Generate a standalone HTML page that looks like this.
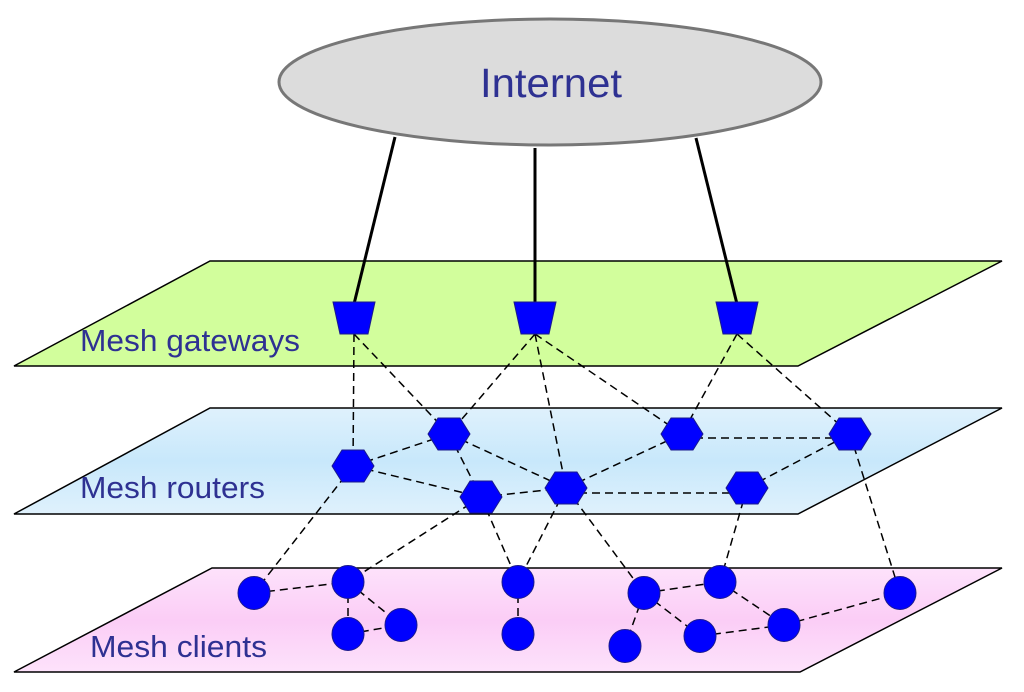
<!DOCTYPE html>
<html><head><meta charset="utf-8"><style>html,body{margin:0;padding:0;background:#fff}</style></head>
<body>
<svg width="1024" height="687" viewBox="0 0 1024 687" xmlns="http://www.w3.org/2000/svg" font-family="Liberation Sans, sans-serif">
<defs>
<linearGradient id="gb" x1="0" y1="0" x2="0" y2="1"><stop offset="0" stop-color="#dff1fc"/><stop offset="0.5" stop-color="#c8e8fb"/><stop offset="1" stop-color="#dff1fc"/></linearGradient>
<linearGradient id="gp" x1="0" y1="0" x2="0" y2="1"><stop offset="0" stop-color="#fde2fb"/><stop offset="0.5" stop-color="#fbcdf6"/><stop offset="1" stop-color="#fde2fb"/></linearGradient>
</defs>
<ellipse cx="550" cy="82" rx="271" ry="63" fill="#dcdcdc" stroke="#777" stroke-width="3"/>
<text x="480" y="97" font-size="41" fill="#2e3192" textLength="142" lengthAdjust="spacingAndGlyphs">Internet</text>
<polygon points="14,366 210,261 1002,261 798,366" fill="#d2fe9c" stroke="#000" stroke-width="1.5"/>
<polygon points="14,514 210,408 1002,408 798,514" fill="url(#gb)" stroke="#000" stroke-width="1.5"/>
<polygon points="14,672 212,568 1002,568 800,672" fill="url(#gp)" stroke="#000" stroke-width="1.5"/>
<text x="80" y="351" font-size="31" fill="#2e3192" textLength="220" lengthAdjust="spacingAndGlyphs">Mesh gateways</text>
<text x="80" y="498" font-size="31" fill="#2e3192" textLength="185" lengthAdjust="spacingAndGlyphs">Mesh routers</text>
<text x="90" y="657" font-size="31" fill="#2e3192" textLength="177" lengthAdjust="spacingAndGlyphs">Mesh clients</text>
<g stroke="#000" stroke-width="3">
<line x1="395" y1="137" x2="354" y2="304"/>
<line x1="535" y1="148" x2="535" y2="304"/>
<line x1="696" y1="138" x2="737" y2="304"/>
</g>
<g stroke="#000" stroke-width="1.5" stroke-dasharray="8,5" fill="none">
<line x1="354" y1="334" x2="353" y2="466"/>
<line x1="354" y1="334" x2="449" y2="434"/>
<line x1="535" y1="334" x2="449" y2="434"/>
<line x1="535" y1="334" x2="566" y2="488"/>
<line x1="535" y1="334" x2="682" y2="434"/>
<line x1="737" y1="334" x2="682" y2="434"/>
<line x1="737" y1="334" x2="850" y2="434"/>
<line x1="353" y1="466" x2="449" y2="434"/>
<line x1="353" y1="466" x2="481" y2="497"/>
<line x1="449" y1="434" x2="481" y2="497"/>
<line x1="449" y1="434" x2="566" y2="488"/>
<line x1="481" y1="497" x2="566" y2="488"/>
<line x1="566" y1="488" x2="682" y2="434"/>
<line x1="682" y1="438" x2="850" y2="438"/>
<line x1="566" y1="493" x2="747" y2="493"/>
<line x1="747" y1="488" x2="850" y2="434"/>
<line x1="353" y1="466" x2="254" y2="593"/>
<line x1="481" y1="497" x2="348" y2="582"/>
<line x1="481" y1="497" x2="518" y2="582"/>
<line x1="566" y1="488" x2="518" y2="582"/>
<line x1="566" y1="488" x2="644" y2="593"/>
<line x1="747" y1="488" x2="720" y2="582"/>
<line x1="850" y1="434" x2="900" y2="593"/>
<line x1="254" y1="593" x2="348" y2="582"/>
<line x1="348" y1="582" x2="348" y2="634"/>
<line x1="348" y1="582" x2="401" y2="625"/>
<line x1="348" y1="634" x2="401" y2="625"/>
<line x1="518" y1="582" x2="518" y2="634"/>
<line x1="644" y1="593" x2="720" y2="582"/>
<line x1="644" y1="593" x2="625" y2="646"/>
<line x1="644" y1="593" x2="700" y2="636"/>
<line x1="720" y1="582" x2="784" y2="625"/>
<line x1="700" y1="636" x2="784" y2="625"/>
<line x1="784" y1="625" x2="900" y2="593"/>
</g>
<g fill="#0000ff" stroke="#1a1a8c" stroke-width="1">
<polygon points="333,302 375,302 368,334 340,334"/>
<polygon points="514,302 556,302 549,334 521,334"/>
<polygon points="716,302 758,302 751,334 723,334"/>
</g>
<g fill="#0000ff" stroke="#1a1a8c" stroke-width="1">
<polygon points="332,466 342,450 364,450 374,466 364,482 342,482"/>
<polygon points="428,434 438,418 460,418 470,434 460,450 438,450"/>
<polygon points="661,434 671,418 693,418 703,434 693,450 671,450"/>
<polygon points="829,434 839,418 861,418 871,434 861,450 839,450"/>
<polygon points="460,497 470,481 492,481 502,497 492,513 470,513"/>
<polygon points="545,488 555,472 577,472 587,488 577,504 555,504"/>
<polygon points="726,488 736,472 758,472 768,488 758,504 736,504"/>
</g>
<g fill="#0000ff" stroke="#1a1a8c" stroke-width="1">
<ellipse cx="254" cy="593" rx="16" ry="16.5"/>
<ellipse cx="348" cy="582" rx="16" ry="16.5"/>
<ellipse cx="348" cy="634" rx="16" ry="16.5"/>
<ellipse cx="401" cy="625" rx="16" ry="16.5"/>
<ellipse cx="518" cy="582" rx="16" ry="16.5"/>
<ellipse cx="518" cy="634" rx="16" ry="16.5"/>
<ellipse cx="644" cy="593" rx="16" ry="16.5"/>
<ellipse cx="720" cy="582" rx="16" ry="16.5"/>
<ellipse cx="625" cy="646" rx="16" ry="16.5"/>
<ellipse cx="700" cy="636" rx="16" ry="16.5"/>
<ellipse cx="784" cy="625" rx="16" ry="16.5"/>
<ellipse cx="900" cy="593" rx="16" ry="16.5"/>
</g>
</svg>
</body></html>
